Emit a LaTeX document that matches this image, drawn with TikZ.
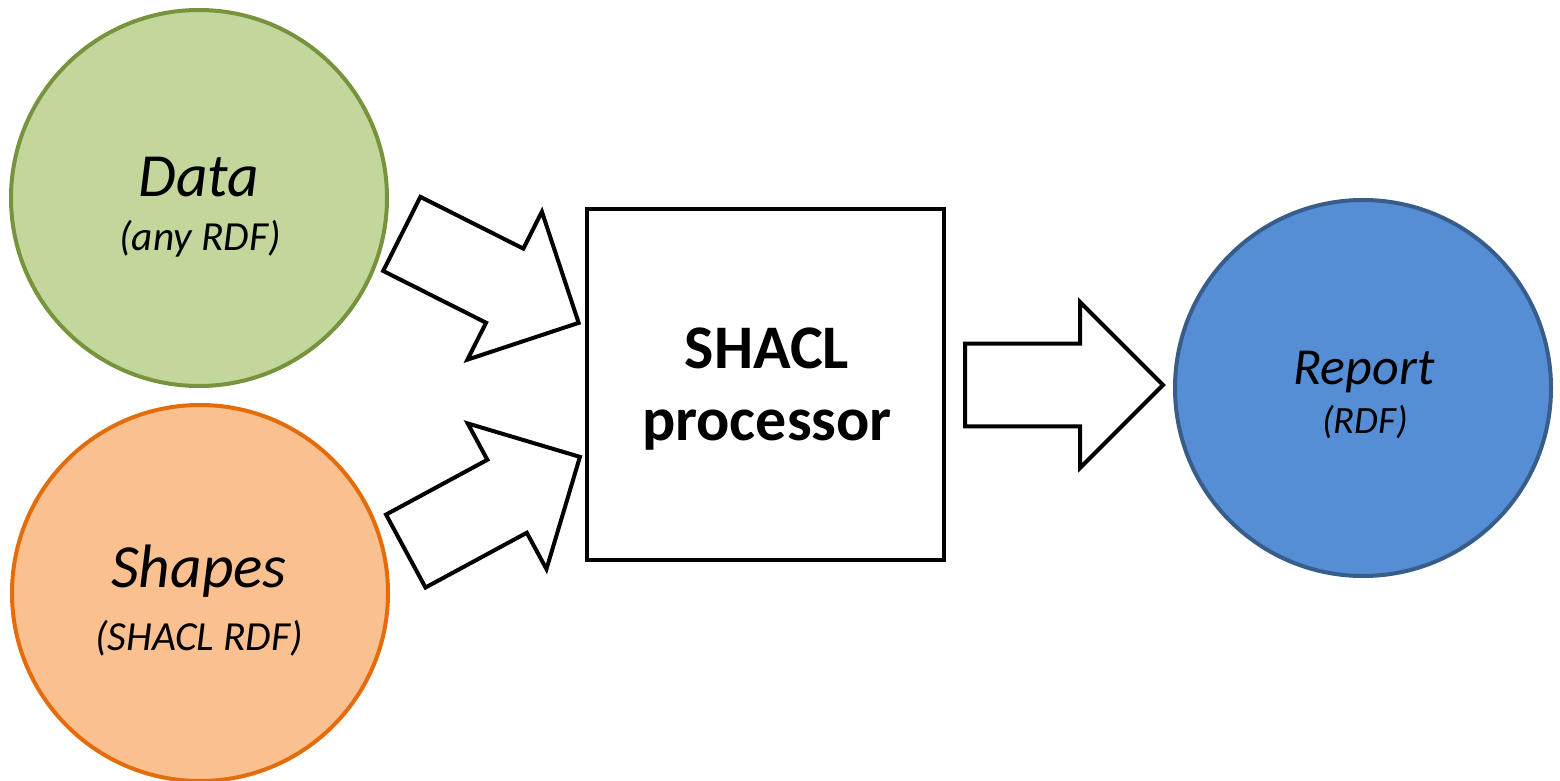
\documentclass[tikz,border=0pt]{standalone}
\usepackage{fontspec}
\setmainfont{Carlito}
\usetikzlibrary{shapes.geometric, shapes.arrows, positioning, calc}
\definecolor{datafill}{RGB}{195, 214, 155}
\definecolor{dataline}{RGB}{119, 147, 60}
\definecolor{shapesfill}{RGB}{250, 192, 144}
\definecolor{shapesline}{RGB}{228, 108, 10}
\definecolor{reportfill}{RGB}{85, 142, 213}
\definecolor{reportline}{RGB}{56, 93, 138}

\begin{document}
\begin{tikzpicture}[x=0.75pt, y=-0.75pt,
        ringnode/.style={circle, line width=3pt, minimum size=282pt, inner sep=0pt},
        blockarrow/.style={single arrow, draw, line width=3pt, fill=white, inner sep=0pt, inner ysep=29.6pt, single arrow head extend=31pt, minimum height=148.5pt, anchor=tail},
        bigtext/.style={anchor=base, font=\fontsize{46}{55}\selectfont\itshape},
        smalltext/.style={anchor=base, font=\fontsize{31}{37}\selectfont\itshape},
        proctext/.style={anchor=base, font=\fontsize{46.5}{56}\selectfont\bfseries}]
        \useasboundingbox (0,0) rectangle (1560,781);

        % Inputs
        \node[ringnode, draw=dataline, fill=datafill] (data) at (199,198) {};
        \node[bigtext] (datatitle) at (199,196) {Data};
        \node[smalltext] (datanote) at (200,250) {(any RDF)};

        \node[ringnode, draw=shapesline, fill=shapesfill] (shapes) at (200,593) {};
        \node[bigtext] (shapestitle) at (199,587) {Shapes};
        \node[smalltext] (shapesnote) at (199,650) {(SHACL RDF)};

        % Processor
        \node[draw, line width=3pt, minimum width=267.75pt, minimum height=263.25pt, inner sep=0pt] (processor) at (765.5,384.5) {};
        \node[proctext] (proctop) at (767,368) {SHACL};
        \node[proctext] (procbottom) at (767,440) {processor};

        % Output
        \node[ringnode, draw=reportline, fill=reportfill] (report) at (1363,388) {};
        \node[bigtext, font=\fontsize{39}{47}\selectfont\itshape] (reporttitle) at (1364,384) {Report};
        \node[smalltext, font=\fontsize{29}{35}\selectfont\itshape] (reportnote) at (1365,433) {(RDF)};

        % Arrows
        \node[blockarrow, rotate=-26.7] (dataarrow) at (400,233) {};
        \node[blockarrow, rotate=28.4] (shapesarrow) at (404,552) {};
        \node[blockarrow] (reportarrow) at (963,385) {};

    \end{tikzpicture}
\end{document}
